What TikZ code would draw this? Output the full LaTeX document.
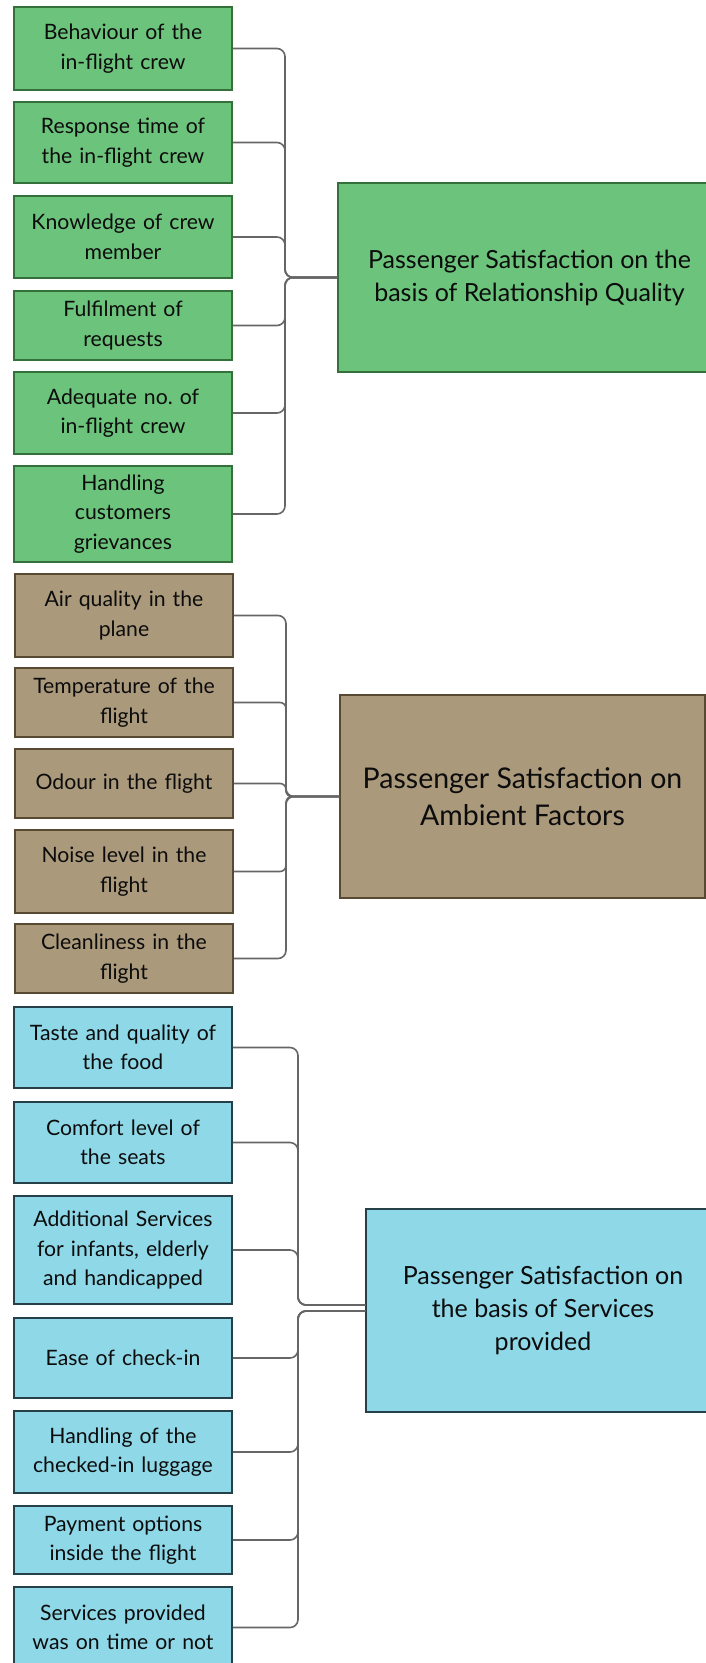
\documentclass[tikz,border=0pt]{standalone}
\usepackage{fontspec}
\setmainfont{Lato}

\definecolor{relfill}{RGB}{108,195,123}
\definecolor{reldraw}{RGB}{52,112,58}
\definecolor{ambfill}{RGB}{170,153,123}
\definecolor{ambdraw}{RGB}{88,74,50}
\definecolor{serfill}{RGB}{142,216,232}
\definecolor{serdraw}{RGB}{38,64,74}
\definecolor{linkgray}{RGB}{102,102,102}
\definecolor{txt}{RGB}{12,12,12}

\tikzset{>=latex}

\begin{document}
\frenchspacing
\begin{tikzpicture}[x=1bp, y=-1bp]
	\tikzstyle{item} = [rectangle, draw, line width=1.5bp, minimum width=218bp, text width=214bp, align=center, inner sep=0pt, text=txt, font=\fontsize{21.2bp}{29.5bp}\selectfont]
	\tikzstyle{goal} = [rectangle, draw, line width=1.5bp, minimum height=203bp, align=center, inner sep=0pt, text=txt]
	\tikzstyle{link} = [draw=linkgray, line width=1.6bp, rounded corners=8bp]

	\clip (0,0) rectangle (706,1663);

%----------Relationship Quality------------------------------
	\node[item, fill=relfill, draw=reldraw, minimum height=83bp] (g1) at (123,48.5) {Behaviour of the\\in-flight crew};
	\node[item, fill=relfill, draw=reldraw, minimum height=81bp] (g2) at (123,142.5) {Response time of\\the in-flight crew};
	\node[item, fill=relfill, draw=reldraw, minimum height=82bp] (g3) at (123,237) {Knowledge of crew\\member};
	\node[item, fill=relfill, draw=reldraw, minimum height=69bp] (g4) at (123,325.5) {Fulfilment of\\requests};
	\node[item, fill=relfill, draw=reldraw, minimum height=82bp] (g5) at (123,413) {Adequate no. of\\in-flight crew};
	\node[item, fill=relfill, draw=reldraw, minimum height=96bp] (g6) at (123,514) {Handling\\customers\\grievances};

	\node[goal, fill=relfill, draw=reldraw, minimum width=383bp, minimum height=189bp, font=\fontsize{25bp}{33bp}\selectfont] (rel) at (529.5,277.5) {Passenger Satisfaction on the\\basis of Relationship Quality};

	\coordinate (jrel) at (285,277.5);
	\draw[link] (g1.east) -| (jrel) -- (rel.west);
	\draw[link] (g2.east) -| (jrel) -- (rel.west);
	\draw[link] (g3.east) -| (jrel) -- (rel.west);
	\draw[link] (g4.east) -| (jrel) -- (rel.west);
	\draw[link] (g5.east) -| (jrel) -- (rel.west);
	\draw[link] (g6.east) -| (jrel) -- (rel.west);

%----------Ambient Factors-----------------------------------
	\node[item, fill=ambfill, draw=ambdraw, minimum height=83bp] (b1) at (124,615.5) {Air quality in the\\plane};
	\node[item, fill=ambfill, draw=ambdraw, minimum height=69bp] (b2) at (124,702.5) {Temperature of the\\flight};
	\node[item, fill=ambfill, draw=ambdraw, minimum height=69bp] (b3) at (124,783.5) {Odour in the flight};
	\node[item, fill=ambfill, draw=ambdraw, minimum height=83bp] (b4) at (124,871.5) {Noise level in the\\flight};
	\node[item, fill=ambfill, draw=ambdraw, minimum height=69bp] (b5) at (124,958.5) {Cleanliness in the\\flight};

	\node[goal, fill=ambfill, draw=ambdraw, minimum width=365bp, font=\fontsize{28.5bp}{37bp}\selectfont] (amb) at (522.5,796.5) {Passenger Satisfaction on\\Ambient Factors};

	\coordinate (jamb) at (286,796.5);
	\draw[link] (b1.east) -| (jamb) -- (amb.west);
	\draw[link, rounded corners=6bp] (b2.east) -| (jamb) -- (amb.west);
	\draw[link, rounded corners=6bp] (b3.east) -| (jamb) -- (amb.west);
	\draw[link, rounded corners=6bp] (b4.east) -| (jamb) -- (amb.west);
	\draw[link] (b5.east) -| (jamb) -- (amb.west);

%----------Services provided---------------------------------
	\node[item, fill=serfill, draw=serdraw, minimum height=81bp] (c1) at (123,1047.5) {Taste and quality of\\the food};
	\node[item, fill=serfill, draw=serdraw, minimum height=81bp] (c2) at (123,1142.5) {Comfort level of\\the seats};
	\node[item, fill=serfill, draw=serdraw, minimum height=108bp] (c3) at (123,1250) {Additional Services\\for infants, elderly\\and handicapped};
	\node[item, fill=serfill, draw=serdraw, minimum height=80bp] (c4) at (123,1358) {Ease of check-in};
	\node[item, fill=serfill, draw=serdraw, minimum height=82bp] (c5) at (123,1452) {Handling of the\\checked-in luggage};
	\node[item, fill=serfill, draw=serdraw, minimum height=68bp] (c6) at (123,1540) {Payment options\\inside the flight};
	\node[item, fill=serfill, draw=serdraw, minimum height=81bp] (c7) at (123,1627.5) {Services provided\\was on time or not};

	\node[goal, fill=serfill, draw=serdraw, minimum width=354bp, font=\fontsize{25bp}{33bp}\selectfont] (ser) at (543,1310.5) {Passenger Satisfaction on\\the basis of Services\\provided};

	\coordinate (jserup) at (298,1305);
	\coordinate (jserlo) at (298,1311);
	\draw[link] (c1.east) -| (jserup) -- (ser.west |- jserup);
	\draw[link] (c2.east) -| (jserup) -- (ser.west |- jserup);
	\draw[link] (c3.east) -| (jserup) -- (ser.west |- jserup);
	\draw[link] (c4.east) -| (jserlo) -- (ser.west |- jserlo);
	\draw[link] (c5.east) -| (jserlo) -- (ser.west |- jserlo);
	\draw[link] (c6.east) -| (jserlo) -- (ser.west |- jserlo);
	\draw[link] (c7.east) -| (jserlo) -- (ser.west |- jserlo);

\end{tikzpicture}
\end{document}
